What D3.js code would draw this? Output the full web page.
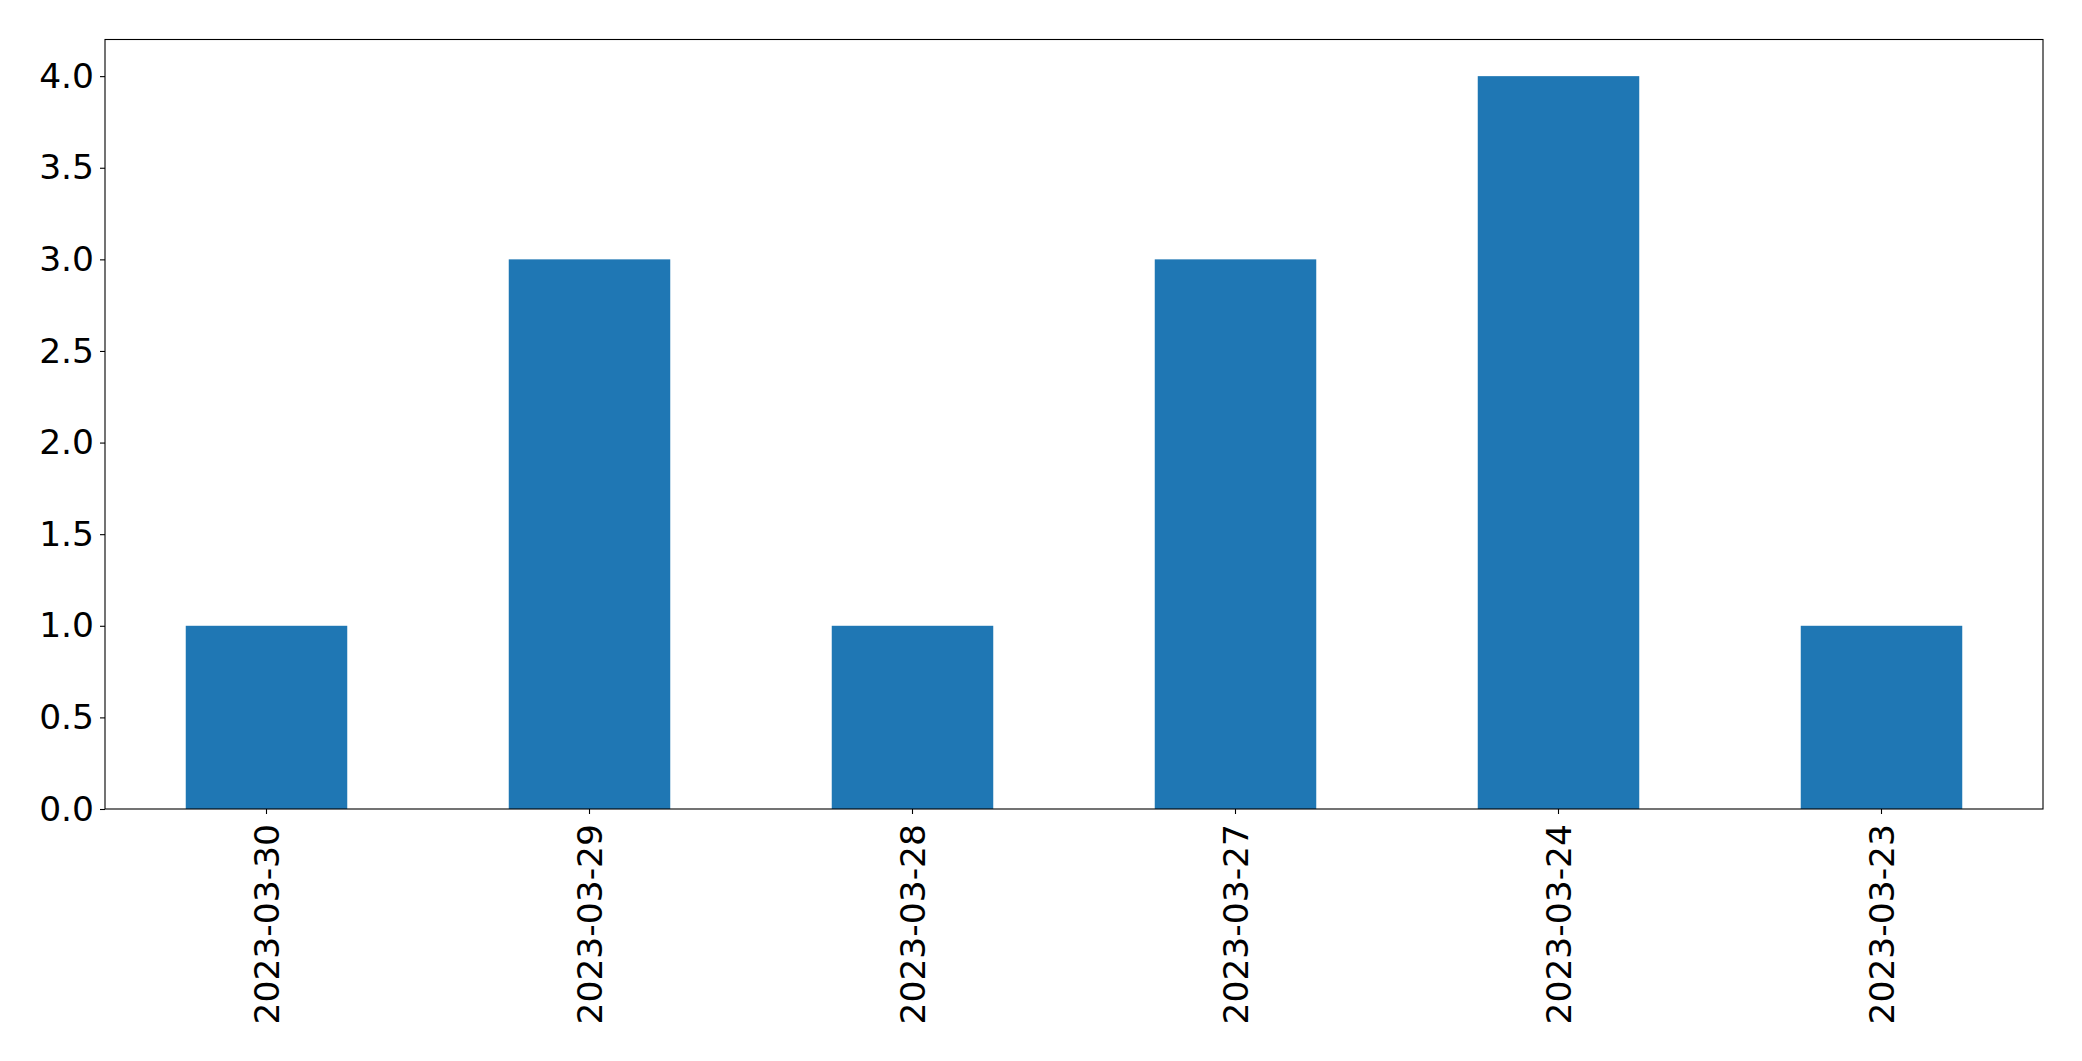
<!DOCTYPE html>
<html>
<head>
<meta charset="utf-8">
<script src="https://cdn.jsdelivr.net/npm/d3@7/dist/d3.min.js"></script>
<style>
  html, body { margin: 0; padding: 0; background: #fff; }
  svg { display: block; }
  text { font-family: "DejaVu Sans", sans-serif; }
</style>
</head>
<body>
<svg id="chart" width="2082" height="1061"></svg>
<script>
const categories = ["2023-03-30", "2023-03-29", "2023-03-28", "2023-03-27", "2023-03-24", "2023-03-23"];
const values = [1, 3, 1, 3, 4, 1];
const yTicks = [0, 0.5, 1.0, 1.5, 2.0, 2.5, 3.0, 3.5, 4.0];

const W = 2082, H = 1061;
const margin = { left: 105, right: 2082 - 2043, top: 39.5, bottom: 1061 - 809 };
const iw = W - margin.left - margin.right;
const ih = H - margin.top - margin.bottom;
const FS = 34.5;

const svg = d3.select("#chart");
const g = svg.append("g").attr("transform", `translate(${margin.left},${margin.top})`);

const x = d3.scaleBand().domain(categories).range([0, iw]).paddingInner(0.5).paddingOuter(0.25);
const y = d3.scaleLinear().domain([0, 4.2]).range([ih, 0]);

g.selectAll("rect.bar").data(values).enter().append("rect")
  .attr("class", "bar")
  .attr("x", (d, i) => x(categories[i]))
  .attr("y", d => y(d))
  .attr("width", x.bandwidth())
  .attr("height", d => y(0) - y(d))
  .attr("fill", "#1f77b4");

// Y axis
const yAxis = d3.axisLeft(y).tickValues(yTicks).tickFormat(d3.format(".1f")).tickSize(5).tickPadding(6);
const ya = g.append("g").call(yAxis);
ya.select(".domain").remove();
ya.selectAll("line").attr("stroke", "#000").attr("stroke-width", 1.1);
ya.selectAll("text").attr("font-size", FS).attr("fill", "#000").attr("font-family", "DejaVu Sans, sans-serif");

// X axis
const xAxis = d3.axisBottom(x).tickSize(5).tickPadding(0);
const xa = g.append("g").attr("transform", `translate(0,${ih})`).call(xAxis);
xa.select(".domain").remove();
xa.selectAll("line").attr("stroke", "#000").attr("stroke-width", 1.1);
xa.selectAll("text")
  .attr("font-size", FS).attr("fill", "#000").attr("font-family", "DejaVu Sans, sans-serif")
  .attr("text-anchor", "end")
  .attr("dy", null)
  .attr("y", 0)
  .attr("dominant-baseline", "central")
  .attr("transform", "translate(0,15) rotate(-90)");

// Frame
g.append("rect").attr("x", 0).attr("y", 0).attr("width", iw).attr("height", ih)
  .attr("fill", "none").attr("stroke", "#000").attr("stroke-width", 1.1);
</script>
</body>
</html>
